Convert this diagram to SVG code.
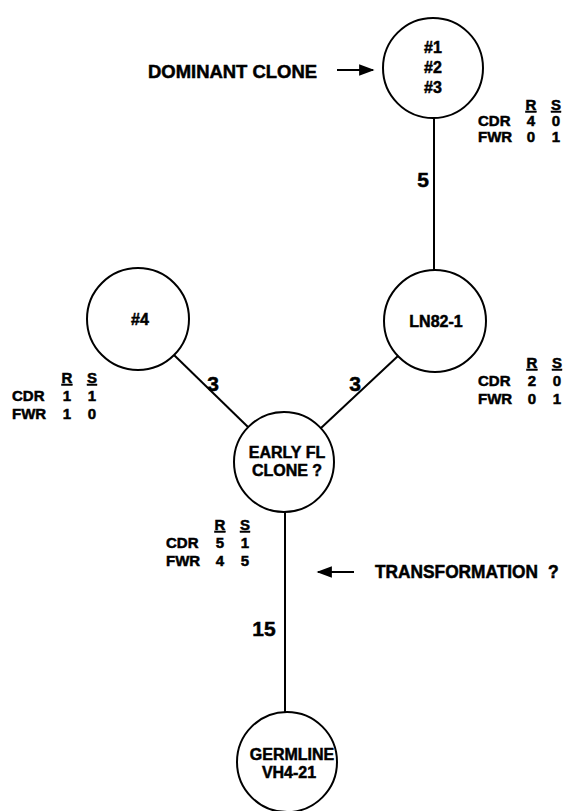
<svg xmlns="http://www.w3.org/2000/svg" width="563" height="811" viewBox="0 0 563 811">
  <defs>
    <marker id="head" viewBox="0 0 10 10" refX="9" refY="5" markerWidth="7" markerHeight="7" orient="auto" markerUnits="strokeWidth">
      <path d="M0,1.2 L10,5 L0,8.8 Z" fill="#000"/>
    </marker>
    <style>
      text { font-family: "Liberation Sans", Arial, Helvetica, sans-serif; font-weight: 700; fill: #000; stroke: #000; stroke-width: 0.5px; }
      .node circle { fill: #fff; stroke: #000; stroke-width: 2; }
      .node text { font-size: 16px; text-anchor: middle; }
      .edge { stroke: #000; stroke-width: 2; fill: none; }
      .arrow { stroke: #000; stroke-width: 2.2; fill: none; marker-end: url(#head); }
      .count { font-size: 21px; text-anchor: middle; }
      .tbl { font-size: 15px; }
      .tbl .v { text-anchor: middle; }
      .tbl .h { text-anchor: middle; text-decoration: underline; }
      .note { font-size: 18px; }
    </style>
  </defs>

  <!-- connectors between clones -->
  <g id="connectors">
    <line class="edge" x1="434" y1="118" x2="434" y2="270"/>
    <line class="edge" x1="174" y1="355" x2="248" y2="427"/>
    <line class="edge" x1="398" y1="356" x2="321" y2="428"/>
    <line class="edge" x1="285" y1="512" x2="285" y2="712"/>
    <text class="count" x="423" y="187">5</text>
    <text class="count" x="213" y="391">3</text>
    <text class="count" x="355" y="391">3</text>
    <text class="count" x="264" y="636">15</text>
  </g>

  <!-- clones -->
  <g id="node-dominant" class="node">
    <circle cx="433" cy="68" r="50"/>
    <text x="433" y="53">#1</text>
    <text x="433" y="73">#2</text>
    <text x="433" y="93">#3</text>
  </g>
  <g id="node-4" class="node">
    <circle cx="138" cy="319" r="51"/>
    <text x="140" y="325">#4</text>
  </g>
  <g id="node-ln82" class="node">
    <circle cx="435" cy="321" r="51"/>
    <text x="436" y="327">LN82-1</text>
  </g>
  <g id="node-early" class="node">
    <circle cx="284" cy="462" r="50"/>
    <text x="287" y="458">EARLY FL</text>
    <text x="287" y="476">CLONE ?</text>
  </g>
  <g id="node-germline" class="node">
    <circle cx="287" cy="762" r="50"/>
    <text x="292" y="760">GERMLINE</text>
    <text x="289" y="778">VH4-21</text>
  </g>

  <!-- replacement / silent mutation tables -->
  <g id="table-dominant" class="tbl">
    <text class="h" x="531" y="110">R</text>
    <text class="h" x="556" y="110">S</text>
    <text x="478" y="126">CDR</text>
    <text class="v" x="531" y="126">4</text>
    <text class="v" x="556" y="126">0</text>
    <text x="478" y="142">FWR</text>
    <text class="v" x="531" y="142">0</text>
    <text class="v" x="556" y="142">1</text>
  </g>
  <g id="table-4" class="tbl">
    <text class="h" x="67" y="383">R</text>
    <text class="h" x="92" y="383">S</text>
    <text x="12" y="401">CDR</text>
    <text class="v" x="67" y="401">1</text>
    <text class="v" x="92" y="401">1</text>
    <text x="12" y="419">FWR</text>
    <text class="v" x="67" y="419">1</text>
    <text class="v" x="92" y="419">0</text>
  </g>
  <g id="table-ln82" class="tbl">
    <text class="h" x="532" y="368">R</text>
    <text class="h" x="557" y="368">S</text>
    <text x="478" y="386">CDR</text>
    <text class="v" x="532" y="386">2</text>
    <text class="v" x="557" y="386">0</text>
    <text x="478" y="404">FWR</text>
    <text class="v" x="532" y="404">0</text>
    <text class="v" x="557" y="404">1</text>
  </g>
  <g id="table-early" class="tbl">
    <text class="h" x="220" y="530">R</text>
    <text class="h" x="245" y="530">S</text>
    <text x="166" y="548">CDR</text>
    <text class="v" x="220" y="548">5</text>
    <text class="v" x="245" y="548">1</text>
    <text x="166" y="566">FWR</text>
    <text class="v" x="220" y="566">4</text>
    <text class="v" x="245" y="566">5</text>
  </g>

  <!-- annotations -->
  <g id="note-dominant">
    <text class="note" x="148" y="78" textLength="169" lengthAdjust="spacingAndGlyphs">DOMINANT CLONE</text>
    <line class="arrow" x1="337" y1="70" x2="373" y2="70"/>
  </g>
  <g id="note-transformation">
    <line class="arrow" x1="354" y1="572" x2="318" y2="572"/>
    <text class="note" x="375" y="578" style="font-size:17.5px" textLength="163" lengthAdjust="spacingAndGlyphs">TRANSFORMATION</text>
    <text class="note" x="548" y="578" style="font-size:17.5px">?</text>
  </g>
</svg>
